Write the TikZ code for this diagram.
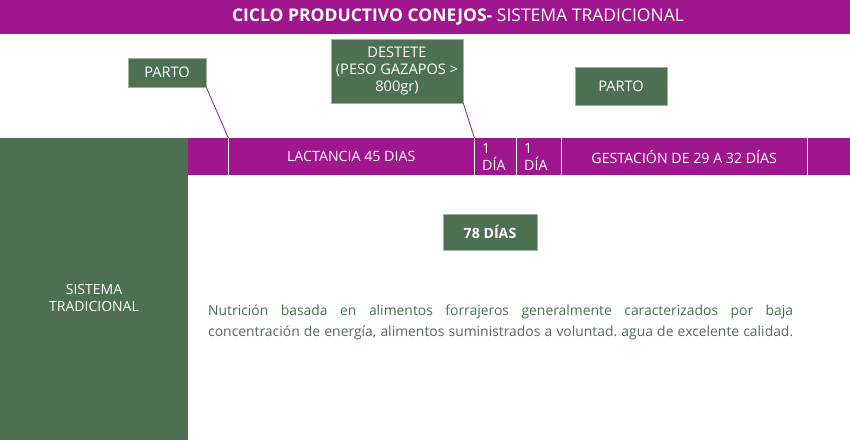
\documentclass[tikz,border=0pt]{standalone}
\usepackage{fontspec}
\setmainfont{Open Sans}
\definecolor{purp}{HTML}{A0168F}
\definecolor{gr}{HTML}{4E7052}
\definecolor{txtgr}{HTML}{506E54}
\begin{document}
\begin{tikzpicture}[x=1pt,y=-1pt,
  gbox/.style={fill=gr, draw=gr!55!white, line width=0.6pt, text=white,
    font=\fontsize{14.6}{17}\selectfont, inner sep=0pt, align=center},
  seg/.style={fill=purp, text=white, font=\fontsize{14.2}{17}\selectfont,
    inner sep=0pt, align=center, anchor=north west, minimum height=37pt},
  segtext/.style={text=white, font=\fontsize{14.2}{17}\selectfont, inner sep=0pt, align=left, anchor=west},
  divider/.style={draw=white, line width=1.3pt},
  lnk/.style={draw=purp, line width=0.8pt}]
\useasboundingbox (0,0) rectangle (850,440);
\fill[white] (0,0) rectangle (850,440);
% title bar
\node[fill=purp, minimum width=850pt, minimum height=34pt, anchor=north west, inner sep=0pt] (titlebar) at (0,0) {};
\node[text=white, font=\fontsize{17.5}{20}\selectfont, inner sep=0pt] (titletext) at (458,17)
  {\textbf{CICLO PRODUCTIVO CONEJOS-} SISTEMA TRADICIONAL};
% left green column
\node[fill=gr, minimum width=188pt, minimum height=302pt, anchor=north west, inner sep=0pt] (leftcol) at (0,138) {};
\node[text=white, font=\fontsize{14}{17}\selectfont, align=center, inner sep=0pt] (sistema) at (94,298) {SISTEMA\\TRADICIONAL};
% timeline strip
\node[seg, minimum width=40pt] (s0) at (188,138) {};
\node[seg, minimum width=246pt] (s1) at (228,138) {LACTANCIA 45 DIAS};
\node[seg, minimum width=42pt] (s2) at (474,138) {};
\node[seg, minimum width=45pt] (s3) at (516,138) {};
\node[seg, minimum width=246pt] (s4) at (561,138) {GESTACIÓN DE 29 A 32 DÍAS};
\node[seg, minimum width=43pt] (s5) at (807,138) {};
\node[segtext] (s2t) at ([xshift=8pt]s2.west) {1\\DÍA};
\node[segtext] (s3t) at ([xshift=8pt]s3.west) {1\\DÍA};
\draw[divider] (s0.north east) -- (s0.south east);
\draw[divider] (s1.north east) -- (s1.south east);
\draw[divider] (s2.north east) -- (s2.south east);
\draw[divider] (s3.north east) -- (s3.south east);
\draw[divider] (s4.north east) -- (s4.south east);
% event boxes
\node[gbox, minimum width=78pt, minimum height=29pt] (parto1) at (167,72.5) {PARTO};
\node[gbox, minimum width=132pt, minimum height=64pt] (destete) at (397,71) {DESTETE\\(PESO GAZAPOS >\\800gr)};
\node[gbox, minimum width=92pt, minimum height=38pt] (parto2) at (621,86) {PARTO};
\node[gbox, minimum width=94pt, minimum height=36pt, font=\fontsize{14.2}{17}\selectfont\bfseries] (dias) at (490,232) {78 DÍAS};
% connectors
\draw[lnk] (parto1.south east) -- (s0.north east);
\draw[lnk] (destete.south east) -- (s1.north east);
% paragraph
\node[anchor=north west, inner sep=0pt, text width=585pt, align=justify, text=txtgr,
  font=\fontsize{13.9}{21}\selectfont] (nutri) at (208,305)
  {\frenchspacing\hyphenpenalty=10000\parfillskip=0pt
   Nutrición basada en alimentos forrajeros generalmente caracterizados por baja\linebreak
   concentración de energía, alimentos suministrados a voluntad. agua de excelente calidad.\par};
\end{tikzpicture}
\end{document}
